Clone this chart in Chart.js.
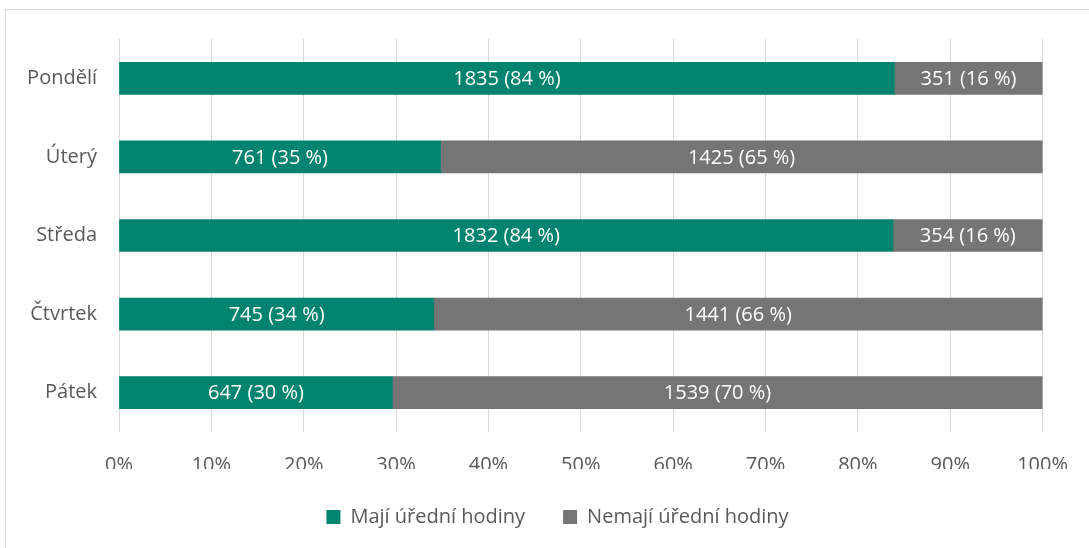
<!DOCTYPE html>
<html>
<head>
<meta charset="utf-8">
<script src="https://cdn.jsdelivr.net/npm/chart.js@4/dist/chart.umd.min.js"></script>
<style>
  html, body { margin: 0; padding: 0; background: #ffffff; overflow: hidden; }
  #wrap { position: relative; width: 1089px; height: 548px; }
  #frame { position: absolute; left: 5px; top: 9px; width: 1200px; height: 700px;
           border-left: 1px solid #d9d9d9; border-top: 1px solid #d9d9d9; box-sizing: border-box; }
  canvas { position: absolute; left: 0; top: 0; }
</style>
</head>
<body>
<div id="wrap">
  <div id="frame"></div>
  <canvas id="c" width="1089" height="548"></canvas>
</div>
<script>
const categories = ['Pondělí', 'Úterý', 'Středa', 'Čtvrtek', 'Pátek'];
const seriesNames = ['Mají úřední hodiny', 'Nemají úřední hodiny'];
const withHours = [1835, 761, 1832, 745, 647];
const withoutHours = [351, 1425, 354, 1441, 1539];
const seriesColors = ['#00836f', '#757575'];

const FONT = "'Open Sans', 'DejaVu Sans', sans-serif";
const counts = [withHours, withoutHours];
const totals = categories.map((_, i) => withHours[i] + withoutHours[i]);
const pct = counts.map(arr => arr.map((v, i) => v / totals[i] * 100));

const labelPlugin = {
  id: 'segLabels',
  afterDatasetsDraw(chart) {
    const ctx = chart.ctx;
    ctx.save();
    ctx.font = '20px ' + FONT;
    ctx.fillStyle = '#ffffff';
    ctx.textAlign = 'center';
    ctx.textBaseline = 'middle';
    chart.data.datasets.forEach((ds, di) => {
      const meta = chart.getDatasetMeta(di);
      meta.data.forEach((el, i) => {
        const c = counts[di][i];
        const p = Math.round(c / totals[i] * 100);
        const x = (el.x + el.base) / 2;
        ctx.fillText(c + ' (' + p + ' %)', x, el.y + 1);
      });
    });
    ctx.restore();
  }
};

const legendShift = {
  id: 'legendShift',
  afterLayout(chart) {
    const lg = chart.legend;
    if (lg) {
      lg.left = 71;
      lg.width = lg.right - lg.left;
      if (lg.adjustHitBoxes) lg.adjustHitBoxes();
    }
  }
};

new Chart(document.getElementById('c'), {
  type: 'bar',
  data: {
    labels: categories,
    datasets: seriesNames.map((name, di) => ({
      label: name,
      data: pct[di],
      backgroundColor: seriesColors[di],
      borderWidth: 0,
      barThickness: 32
    }))
  },
  options: {
    indexAxis: 'y',
    responsive: false,
    animation: false,
    devicePixelRatio: 1,
    layout: { padding: { top: 39, bottom: 11, left: 0, right: 45 } },
    plugins: {
      tooltip: { enabled: false },
      legend: {
        position: 'bottom',
        labels: {
          boxWidth: 14,
          boxHeight: 14,
          padding: 38,
          color: '#595959',
          font: { family: FONT, size: 20 }
        }
      }
    },
    scales: {
      x: {
        stacked: true,
        min: 0,
        max: 100,
        ticks: {
          stepSize: 10,
          padding: 21,
          color: '#595959',
          font: { family: FONT, size: 20 },
          callback: v => v + '%'
        },
        grid: { color: '#d9d9d9', lineWidth: 1, drawTicks: false },
        border: { display: false },
        afterFit(scale) { scale.height = 37; }
      },
      y: {
        stacked: true,
        ticks: {
          padding: 22,
          color: '#595959',
          font: { family: FONT, size: 20 }
        },
        grid: { display: false, drawTicks: false },
        border: { display: false },
        afterFit(scale) { scale.width = 119; }
      }
    }
  },
  plugins: [labelPlugin, legendShift]
});
</script>
</body>
</html>
